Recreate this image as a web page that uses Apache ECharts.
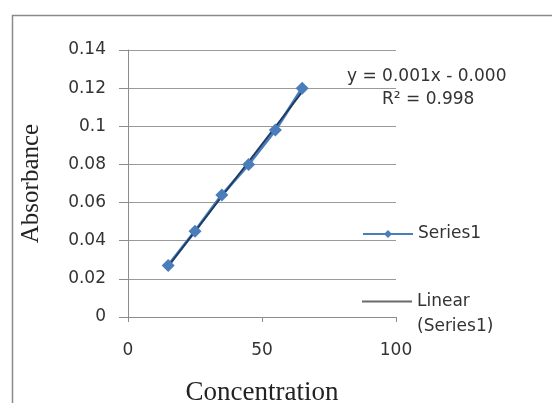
<!DOCTYPE html>
<html>
<head>
<meta charset="utf-8">
<script src="https://cdn.jsdelivr.net/npm/echarts@6/dist/echarts.min.js"></script>
<style>
html,body{margin:0;padding:0;background:#fff;}
#chart{width:552px;height:403px;}
</style>
</head>
<body>
<div id="chart"></div>
<script>
// Data
var concentration = [15, 25, 35, 45, 55, 65];
var absorbance = [0.027, 0.045, 0.064, 0.080, 0.098, 0.120];
var xTicks = [0, 50, 100];
var yTicks = [0, 0.02, 0.04, 0.06, 0.08, 0.1, 0.12, 0.14];
var equationText = 'y = 0.001x - 0.000';
var r2Text = 'R\u00B2 = 0.998';

// Least squares linear trendline (Excel style)
var n = concentration.length, sx = 0, sy = 0, sxx = 0, sxy = 0;
for (var i = 0; i < n; i++) {
  sx += concentration[i]; sy += absorbance[i];
  sxx += concentration[i] * concentration[i];
  sxy += concentration[i] * absorbance[i];
}
var slope = (n * sxy - sx * sy) / (n * sxx - sx * sx);
var intercept = (sy - slope * sx) / n;
var xMin = Math.min.apply(null, concentration), xMax = Math.max.apply(null, concentration);
var trend = [[xMin, slope * xMin + intercept], [xMax, slope * xMax + intercept]];

var pts = concentration.map(function (x, i) { return [x, absorbance[i]]; });

var chart = echarts.init(document.getElementById('chart'));
var labelFont = '"DejaVu Sans", sans-serif';
chart.setOption({
  backgroundColor: '#fff',
  animation: false,
  grid: { left: 128, right: 156, top: 50, bottom: 86, containLabel: false, outerBoundsMode: 'none' },
  xAxis: {
    type: 'value', min: xTicks[0], max: xTicks[xTicks.length - 1], interval: xTicks[1] - xTicks[0],
    name: 'Concentration', nameLocation: 'middle', nameGap: 62,
    nameTextStyle: { fontFamily: '"Liberation Serif", serif', fontSize: 27, color: '#222' },
    axisLine: { show: true, lineStyle: { color: '#8c8c8c', width: 1 } },
    axisTick: { show: true, length: 5, lineStyle: { color: '#8c8c8c' } },
    axisLabel: { fontFamily: labelFont, fontSize: 17, color: '#333', margin: 25 },
    splitLine: { show: false }
  },
  yAxis: {
    type: 'value', min: yTicks[0], max: yTicks[yTicks.length - 1], interval: 0.02,
    name: 'Absorbance', nameLocation: 'middle', nameGap: 84, nameRotate: 90,
    nameTextStyle: { fontFamily: '"Liberation Serif", serif', fontSize: 25, color: '#222' },
    axisLine: { show: true, lineStyle: { color: '#8c8c8c', width: 1 } },
    axisTick: { show: true, length: 9, lineStyle: { color: '#8c8c8c' } },
    axisLabel: { fontFamily: labelFont, fontSize: 17, color: '#333', margin: 22,
      formatter: function (v) { return String(Math.round(v * 100) / 100); } },
    splitLine: { show: true, lineStyle: { color: '#9a9a9a', width: 1 } }
  },
  legend: [
    {
      orient: 'vertical', left: 362, top: 224, padding: 0, itemWidth: 50, itemHeight: 10,
      textStyle: { fontFamily: labelFont, fontSize: 17, color: '#333', lineHeight: 20 },
      data: ['Series1']
    },
    {
      orient: 'vertical', left: 362, top: 264, padding: 0, itemWidth: 50, itemHeight: 2,
      icon: 'rect',
      textStyle: { fontFamily: labelFont, fontSize: 17, color: '#333', lineHeight: 25 },
      formatter: function (name) { return ' \nLinear\n(Series1)'; },
      data: [{ name: 'Linear (Series1)', itemStyle: { color: '#6a6a6a' } }]
    }
  ],
  series: [
    {
      name: 'Series1', type: 'line', data: pts,
      symbol: 'diamond', symbolSize: 13,
      itemStyle: { color: '#4a7ebb' },
      lineStyle: { color: '#4a7ebb', width: 3 }
    },
    {
      name: 'Linear (Series1)', type: 'line', data: trend,
      symbol: 'none', z: 3,
      itemStyle: { color: '#6a6a6a' },
      lineStyle: { color: '#1f3a5f', width: 1.8 }
    }
  ],
  graphic: [
    { type: 'rect', left: 10, top: 13, shape: { width: 560, height: 400 },
      style: { fill: 'none', stroke: '#8a8a8a', lineWidth: 1.5 }, z: -1 },
    { type: 'text', left: 347, top: 68, style: { text: equationText, font: '17px "DejaVu Sans", sans-serif', fill: '#333' } },
    { type: 'text', left: 382, top: 91, style: { text: r2Text, font: '17px "DejaVu Sans", sans-serif', fill: '#333' } }
  ]
});
</script>
</body>
</html>
